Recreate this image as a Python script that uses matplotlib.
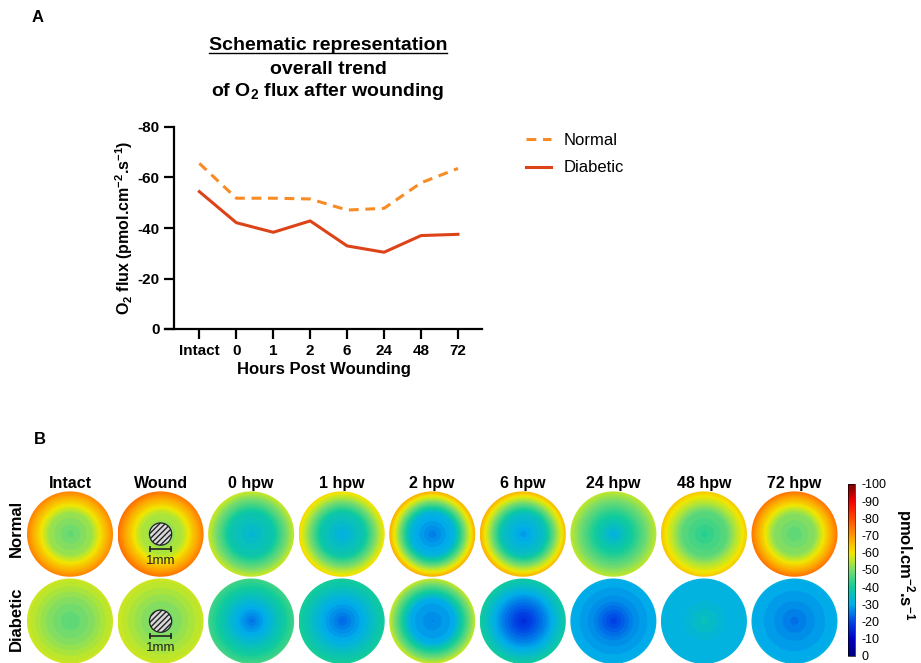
# -----------------------------------------------------------
# O2 FLUX AFTER WOUNDING: TREND (A) + FLUX MAPS (B)
# -----------------------------------------------------------

import numpy as np
import matplotlib
matplotlib.use("Agg")
import matplotlib.pyplot as plt
from matplotlib.colors import LinearSegmentedColormap, Normalize
from matplotlib.patches import Ellipse
from matplotlib.lines import Line2D

plt.rcParams['font.family'] = ['Liberation Sans', 'DejaVu Sans']
plt.rcParams['axes.unicode_minus'] = False
plt.rcParams['mathtext.fontset'] = 'custom'
plt.rcParams['mathtext.rm'] = 'Liberation Sans'
plt.rcParams['mathtext.bf'] = 'Liberation Sans:bold'
plt.rcParams['mathtext.it'] = 'Liberation Sans:italic'

# -----------------------------------------------------------
# DATA
# -----------------------------------------------------------

# Panel A: overall trend
horas = ["Intact", "0", "1", "2", "6", "24", "48", "72"]
flujo_normal = [-65.6, -51.8, -51.8, -51.5, -47.1, -47.8, -57.9, -63.6]
flujo_diabetico = [-54.4, -42.1, -38.3, -42.8, -32.9, -30.4, -37.0, -37.5]

# Panel B: flux maps (value at centre, half radius and edge of each disc)
columnas = ["Intact", "Wound", "0 hpw", "1 hpw", "2 hpw",
            "6 hpw", "24 hpw", "48 hpw", "72 hpw"]
filas = ["Normal", "Diabetic"]
centro_normal = [-48, -50, -33, -31, -25, -28, -31, -42, -47]
medio_normal = [-53, -55, -38, -38, -32, -36, -42, -47, -52]
borde_normal = [-73, -75, -57, -62, -68, -67, -56, -64, -75]
centro_diabetico = [-47, -48, -24, -23, -26, -16, -19, -36, -24]
medio_diabetico = [-51, -52, -34, -31, -30, -26, -27, -32, -28]
borde_diabetico = [-57, -57, -45, -41, -57, -40, -31, -31, -31]
columnas_herida = ["Wound"]

# Colour bar ticks
ticks_barra = [-100, -90, -80, -70, -60, -50, -40, -30, -20, -10, 0]

# -----------------------------------------------------------
# STYLE
# -----------------------------------------------------------

color_normal = "#f98b25"
color_diabetico = "#dc4318"

# jet-like map, 0 (navy) -> -100 (dark red)
mapa = LinearSegmentedColormap.from_list("flux", [
    (0.00, "#00007a"),
    (0.10, "#0000c8"),
    (0.20, "#0046e6"),
    (0.30, "#00aeea"),
    (0.40, "#10cc9c"),
    (0.50, "#78dc6c"),
    (0.55, "#b4e634"),
    (0.60, "#f2e600"),
    (0.70, "#ff9a00"),
    (0.80, "#ff4a00"),
    (0.90, "#f40000"),
    (1.00, "#7a0000"),
])
norma = Normalize(vmin=0, vmax=100)

fig = plt.figure(figsize=(9.21, 6.63), dpi=100)
W, H = 921.0, 663.0

# -----------------------------------------------------------
# PANEL A
# -----------------------------------------------------------

axA = fig.add_axes([165 / W, 1 - 329 / H, (482 - 165) / W, (329 - 127) / H])

x = np.arange(len(horas))
axA.plot(x, flujo_normal, color=color_normal, linewidth=2.2,
         linestyle=(0, (3.2, 2.2)), label="Normal")
axA.plot(x, flujo_diabetico, color=color_diabetico, linewidth=2.2,
         label="Diabetic")

axA.set_xlim(-0.93, 7.65)
axA.set_ylim(0, -80)
axA.set_yticks([0, -20, -40, -60, -80])
axA.set_yticklabels(["0", "-20", "-40", "-60", "-80"])
axA.set_xticks(x)
axA.set_xticklabels(horas)

axA.spines['top'].set_visible(False)
axA.spines['right'].set_visible(False)
axA.spines['left'].set_position(('data', -0.68))
for s in ['left', 'bottom']:
    axA.spines[s].set_linewidth(1.6)
axA.tick_params(width=1.6, length=7, labelsize=11)
for t in axA.get_xticklabels() + axA.get_yticklabels():
    t.set_fontweight('bold')

axA.set_xlabel("Hours Post Wounding", fontsize=12, fontweight='bold',
               labelpad=3)
axA.set_ylabel(r"O$_\mathbf{2}$ flux (pmol.cm$^\mathbf{-2}$.s$^\mathbf{-1}$)",
               fontsize=11.5, fontweight='bold', labelpad=2)

axA.legend(loc='upper left', bbox_to_anchor=(1.09, 1.045), frameon=False,
           fontsize=12, handlelength=1.5, handletextpad=0.8,
           labelspacing=0.75)

# Title (first line underlined)
titulo1 = fig.text(328 / W, 1 - 46 / H, "Schematic representation",
                   ha='center', va='center', fontsize=14, fontweight='bold')
fig.text(328 / W, 1 - 69 / H, "overall trend",
         ha='center', va='center', fontsize=14, fontweight='bold')
fig.text(328 / W, 1 - 92 / H, r"of O$_\mathbf{2}$ flux after wounding",
         ha='center', va='center', fontsize=14, fontweight='bold')

fig.canvas.draw()
caja = titulo1.get_window_extent().transformed(fig.transFigure.inverted())
fig.add_artist(Line2D([caja.x0, caja.x1], [caja.y0 + 0.002, caja.y0 + 0.002],
                      color='black', linewidth=1.0,
                      transform=fig.transFigure))

fig.text(38 / W, 1 - 18 / H, "A", fontsize=12, fontweight='bold',
         ha='center', va='center')
fig.text(40 / W, 1 - 440 / H, "B", fontsize=12, fontweight='bold',
         ha='center', va='center')

# -----------------------------------------------------------
# PANEL B
# -----------------------------------------------------------

axB = fig.add_axes([20.2 / W, 0.0, (844.3 - 20.2) / W, (663 - 481.8) / H])
axB.axis('off')

rx, ry = 0.475, 0.49
u = np.linspace(-1, 1, 241)
U, V = np.meshgrid(u, u)
R = np.sqrt(U ** 2 + V ** 2)

filas_datos = [(1, centro_normal, medio_normal, borde_normal),
               (0, centro_diabetico, medio_diabetico, borde_diabetico)]

for fila_y, centros, medios, bordes in filas_datos:
    for i, nombre in enumerate(columnas):
        perfil = [-centros[i], -medios[i], -bordes[i]]
        Z = np.interp(R, [0, 0.5, 1.0], perfil)
        # soft banding like the original maps
        Z = np.round(Z / 1.5) * 1.5
        img = axB.imshow(Z, cmap=mapa, norm=norma, origin='lower',
                         extent=(i - rx, i + rx, fila_y - ry, fila_y + ry),
                         interpolation='bilinear', aspect='auto')
        disco = Ellipse((i, fila_y), 2 * rx, 2 * ry, facecolor='none',
                        edgecolor='none', transform=axB.transData)
        axB.add_patch(disco)
        img.set_clip_path(disco)
        if nombre in columnas_herida:
            axB.add_patch(Ellipse((i, fila_y), 0.245, 0.255,
                                  facecolor="#d9d9d9", edgecolor="#222222",
                                  hatch="//////", linewidth=0.9))
            axB.plot([i - 0.12, i + 0.12], [fila_y - 0.17, fila_y - 0.17],
                     color="#222222", linewidth=1.2, marker='|',
                     markersize=5, markeredgewidth=1.2)
            axB.text(i, fila_y - 0.31, "1mm", ha='center', va='center',
                     fontsize=9.5, color="#222222")

axB.set_xlim(-0.55, len(columnas) - 1 + 0.55)
axB.set_ylim(-0.48, 1.6)

for i, nombre in enumerate(columnas):
    axB.text(i, 1.585, nombre, ha='center', va='center', fontsize=11.5,
             fontweight='bold', clip_on=False)

for j, nombre in enumerate(filas):
    axB.text(-0.59, 1.06 - j * 1.03, nombre, ha='center', va='center',
             rotation=90, fontsize=12, fontweight='bold', clip_on=False)

# Colour bar
axC = fig.add_axes([848 / W, 1 - 656 / H, 7 / W, (656 - 484) / H])
barra = fig.colorbar(plt.cm.ScalarMappable(norm=norma, cmap=mapa), cax=axC)
barra.set_ticks([-t for t in ticks_barra])
barra.set_ticklabels([str(t) for t in ticks_barra])
barra.ax.tick_params(length=0, labelsize=9, pad=5)
barra.outline.set_linewidth(0.5)
fig.text(905 / W, 1 - 565 / H, r"pmol.cm$^\mathbf{-2}$.s$^\mathbf{-1}$",
         rotation=270, ha='center', va='center', fontsize=12,
         fontweight='bold')

fig.savefig("out.png", dpi=100)
